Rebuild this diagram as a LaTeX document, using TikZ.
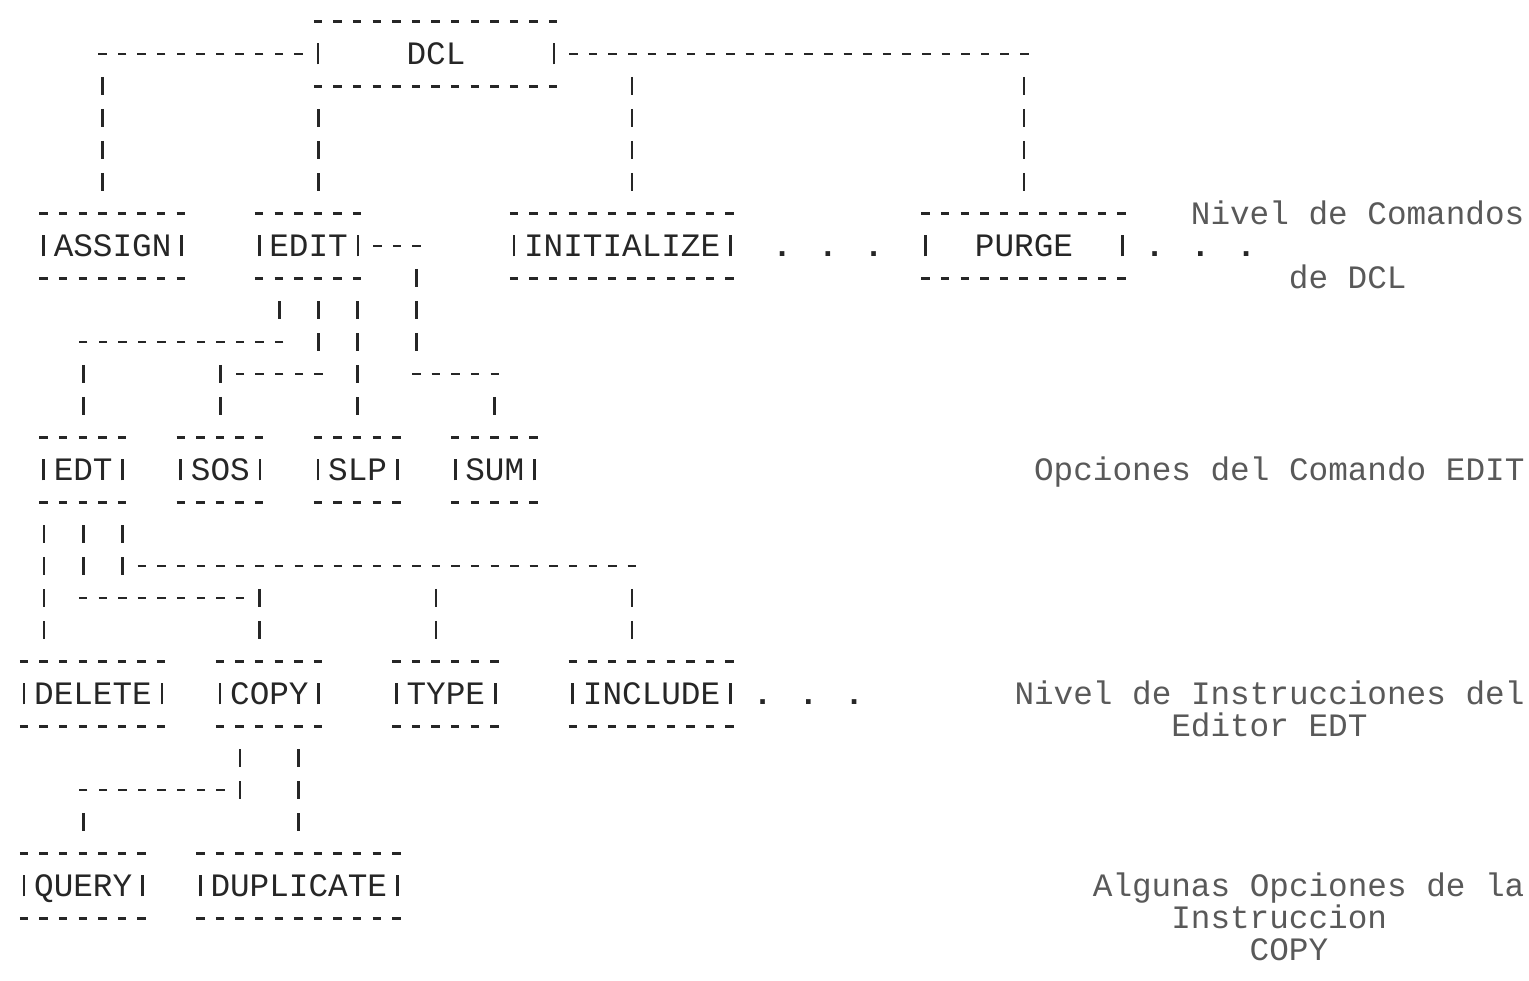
\documentclass[tikz,border=0pt]{standalone}
\usepackage{fontspec}
\newfontfamily\dotmatrix{Liberation Mono}
\newcommand{\printerfont}{\dotmatrix\fontsize{18.6pt}{22pt}\selectfont}

\begin{document}
\begin{tikzpicture}[
    x=0.392cm, y=-0.64cm,
    font=\printerfont,
    hrule/.style={draw=black!85, line width=1.4pt, dash pattern=on 0.17cm off 0.222cm, dash phase=0.281cm},
    vbar/.style={draw=black!85, line width=1.6pt, dash pattern=on 0.36cm off 0.28cm, dash phase=0.5cm, shorten <=0.32cm, shorten >=0.32cm},
    sidebar/.style={draw=black!85, line width=1.6pt},
    cmdbox/.style={inner sep=0pt, minimum width=#1*0.392cm, minimum height=1.28cm, text height=0.42cm, text depth=0pt, text=black!85},
    dotrow/.style={inner sep=0pt, text height=0.42cm, text depth=0pt, text=black!85, font=\printerfont\bfseries},
    levelnote/.style={anchor=west, inner sep=0pt, text height=0.42cm, text depth=0pt, text=black!65}
]
  \def\hcol{0.196cm}
  \def\hrow{0.32cm}
  \useasboundingbox (-0.245,-0.6875) rectangle (77.77,29.97);

  % DCL and the command level
  \node[cmdbox=13] (dcl) at (22,1) {DCL};
  \node[cmdbox=8] (assign) at (5.5,7) {ASSIGN};
  \node[cmdbox=6] (edit) at (15.5,7) {EDIT};
  \node[cmdbox=12] (init) at (31.5,7) {INITIALIZE};
  \node[dotrow] (dots-a) at (42,7) {. . .};
  \node[cmdbox=11] (purge) at (52,7) {PURGE};
  \node[dotrow] (dots-b) at (61,7) {. . .};

  % options of EDIT
  \node[cmdbox=5] (edt) at (4,14) {EDT};
  \node[cmdbox=5] (sos) at (11,14) {SOS};
  \node[cmdbox=5] (slp) at (18,14) {SLP};
  \node[cmdbox=5] (sum) at (25,14) {SUM};

  % EDT instructions
  \node[cmdbox=8] (delete) at (4.5,21) {DELETE};
  \node[cmdbox=6] (copy) at (13.5,21) {COPY};
  \node[cmdbox=6] (type) at (22.5,21) {TYPE};
  \node[cmdbox=9] (include) at (33,21) {INCLUDE};
  \node[dotrow] (dots-c) at (41,21) {. . .};

  % options of COPY
  \node[cmdbox=7] (query) at (4,27) {QUERY};
  \node[cmdbox=11] (duplicate) at (15,27) {DUPLICATE};

  % level notes on the right
  \node[levelnote] (note-cmd) at (60.5,6) {Nivel de Comandos};
  \node[levelnote] (note-cmd2) at (65.5,8) {de DCL};
  \node[levelnote] (note-opt) at (52.5,14) {Opciones del Comando EDIT};
  \node[levelnote] (note-ins) at (51.5,21) {Nivel de Instrucciones del};
  \node[levelnote] (note-ins2) at (59.5,22) {Editor EDT};
  \node[levelnote] (note-copy) at (55.5,27) {Algunas Opciones de la};
  \node[levelnote] (note-copy2) at (59.5,28) {Instruccion};
  \node[levelnote] (note-copy3) at (63.5,29) {COPY};

  % dashed rules and side bars of every box
  \foreach \n in {dcl,assign,edit,init,purge,edt,sos,slp,sum,delete,copy,type,include,query,duplicate} {
    \draw[hrule] (\n.north west) -- (\n.north east);
    \draw[hrule] (\n.south west) -- (\n.south east);
    \draw[sidebar] ([xshift=\hcol,yshift=-0.21cm]\n.west) -- ([xshift=\hcol,yshift=0.21cm]\n.west);
    \draw[sidebar] ([xshift=-\hcol,yshift=-0.21cm]\n.east) -- ([xshift=-\hcol,yshift=0.21cm]\n.east);
  }

  \coordinate (edt-turn) at (14,10);
  \coordinate (sos-turn) at (16,11);
  \coordinate (sum-turn) at (21,11);
  \coordinate (type-turn) at (6,17);
  \coordinate (copy-turn) at (4,18);
  \coordinate (query-turn) at (12,24);

  % DCL down to the commands
  \draw[hrule, shorten >=-\hcol] (dcl.west) -- (dcl.west -| 5,0);
  \draw[hrule, shorten >=-\hcol] (dcl.east) -- (dcl.east -| purge.north);
  \draw[vbar] (dcl.west -| 5,0) -- (assign.north -| 5,0);
  \draw[vbar] (dcl.south -| 16,0) -- (edit.north -| 16,0);
  \draw[vbar] (dcl.east -| 32,0) -- (init.north -| 32,0);
  \draw[vbar] (dcl.east -| purge.north) -- (purge.north);

  % EDIT to its options
  \draw[vbar] (edit.south -| edt-turn) -- (edt-turn);
  \draw[hrule, shorten <=-\hcol, shorten >=-\hcol] (edt-turn) -- (edt-turn -| edt.north);
  \draw[vbar] (edt-turn -| edt.north) -- (edt.north);

  \draw[vbar] (edit.south -| sos-turn) -- (sos-turn);
  \draw[hrule, shorten <=-\hcol, shorten >=\hcol] (sos-turn) -- (sos-turn -| sos.north);
  \draw[vbar, shorten <=-\hrow] (sos-turn -| sos.north) -- (sos.north);

  \draw[vbar] (edit.south -| slp.north) -- (slp.north);

  \draw[hrule, shorten >=-\hcol] (edit.east) -- (edit.east -| sum-turn);
  \draw[vbar] (edit.east -| sum-turn) -- (sum-turn);
  \draw[hrule, shorten <=-\hcol, shorten >=-\hcol] (sum-turn) -- (sum-turn -| sum.north);
  \draw[vbar] (sum-turn -| sum.north) -- (sum.north);

  % EDT to its instructions
  \draw[vbar] (edt.south -| 2,0) -- (delete.north -| 2,0);

  \draw[vbar] (edt.south -| copy-turn) -- (copy-turn);
  \draw[hrule, shorten <=-\hcol, shorten >=\hcol] (copy-turn) -- (copy-turn -| 13,0);
  \draw[vbar, shorten <=-\hrow] (copy-turn -| 13,0) -- (copy.north -| 13,0);

  \draw[vbar, shorten >=-\hrow] (edt.south -| type-turn) -- (type-turn);
  \draw[hrule, shorten <=\hcol, shorten >=-\hcol] (type-turn) -- (type-turn -| 32,0);
  \draw[vbar] (type-turn -| 22,0) -- (type.north -| 22,0);
  \draw[vbar] (type-turn -| 32,0) -- (include.north -| 32,0);

  % COPY to its options
  \draw[vbar, shorten >=-\hrow] (copy.south -| query-turn) -- (query-turn);
  \draw[hrule, shorten <=\hcol, shorten >=-\hcol] (query-turn) -- (query-turn -| query.north);
  \draw[vbar] (query-turn -| query.north) -- (query.north);
  \draw[vbar] (copy.south -| duplicate.north) -- (duplicate.north);
\end{tikzpicture}
\end{document}
